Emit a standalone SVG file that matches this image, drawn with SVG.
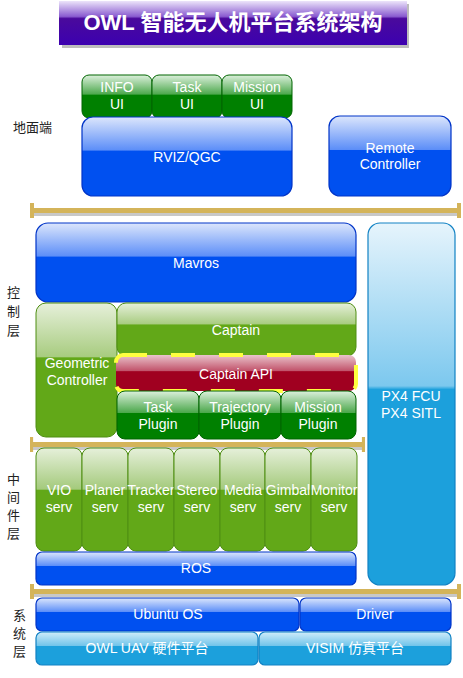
<svg xmlns="http://www.w3.org/2000/svg" width="463" height="678" viewBox="0 0 463 678">
<defs>
<linearGradient id="gTitle" x1="0" y1="0" x2="0" y2="1">
<stop offset="0" stop-color="#ECE4FA"/><stop offset="0.35" stop-color="#8A5CD0"/><stop offset="0.4" stop-color="#4A0A9C"/><stop offset="1" stop-color="#3C00B0"/>
</linearGradient>
<linearGradient id="gBlue" x1="0" y1="0" x2="0" y2="1">
<stop offset="0" stop-color="#DCE6FC"/><stop offset="0.42" stop-color="#5C8EF8"/><stop offset="0.43" stop-color="#0050F0"/><stop offset="1" stop-color="#0050F0"/>
</linearGradient>
<linearGradient id="gGreen" x1="0" y1="0" x2="0" y2="1">
<stop offset="0" stop-color="#DCF0DC"/><stop offset="0.45" stop-color="#4CA84C"/><stop offset="0.46" stop-color="#008000"/><stop offset="1" stop-color="#008000"/>
</linearGradient>
<linearGradient id="gLGreen" x1="0" y1="0" x2="0" y2="1">
<stop offset="0" stop-color="#E6F0DA"/><stop offset="0.4" stop-color="#A8CC80"/><stop offset="0.41" stop-color="#62A818"/><stop offset="1" stop-color="#62A818"/>
</linearGradient>
<linearGradient id="gSrv" x1="0" y1="0" x2="0" y2="1">
<stop offset="0" stop-color="#E6F0DA"/><stop offset="0.4" stop-color="#A4CA7C"/><stop offset="0.41" stop-color="#62A818"/><stop offset="1" stop-color="#62A818"/>
</linearGradient>
<linearGradient id="gRed" x1="0" y1="0" x2="0" y2="1">
<stop offset="0" stop-color="#EAC4CC"/><stop offset="0.45" stop-color="#C05068"/><stop offset="0.46" stop-color="#A00020"/><stop offset="1" stop-color="#A00020"/>
</linearGradient>
<linearGradient id="gSys" x1="0" y1="0" x2="0" y2="1">
<stop offset="0" stop-color="#D0ECFA"/><stop offset="0.42" stop-color="#70C4EA"/><stop offset="0.43" stop-color="#1CA0DC"/><stop offset="1" stop-color="#1CA0DC"/>
</linearGradient>
<linearGradient id="gPX4" x1="0" y1="0" x2="0" y2="1">
<stop offset="0" stop-color="#E6F4FC"/><stop offset="0.45" stop-color="#7CC8EE"/><stop offset="0.46" stop-color="#1CA0DC"/><stop offset="1" stop-color="#1CA0DC"/>
</linearGradient>
<g id="bar"><rect x="0" y="2" width="431" height="4" fill="#C8C8C8"/><rect x="0" y="-2" width="431" height="5" fill="#D4B45A"/><rect x="0" y="-7" width="4" height="15" fill="#D4B45A"/><rect x="427" y="-7" width="4" height="15" fill="#D4B45A"/></g>
</defs>
<style>
text{font-family:"Liberation Sans",Arial,"Noto Sans CJK SC",sans-serif;font-size:14px;fill:#fff;text-anchor:middle}
.lbl{fill:#222;font-size:13px;text-anchor:start;font-family:"Noto Sans CJK SC","Liberation Sans",sans-serif}
.blue{fill:url(#gBlue);stroke:#0034C8;stroke-width:1.2}
.green{fill:url(#gGreen);stroke:#006400;stroke-width:1}
.lgreen{fill:url(#gLGreen);stroke:#4E8E12;stroke-width:1}
.srv{fill:url(#gSrv);stroke:#4E8E12;stroke-width:1}
.sys{fill:url(#gSys);stroke:#1282C4;stroke-width:1.2}
</style>
<g id="title">
<rect x="62" y="4" width="347" height="44" fill="#BDBDBD"/>
<rect x="59" y="1" width="348" height="44" fill="url(#gTitle)"/>
<text x="233" y="30" style="font-size:22px;font-weight:bold;font-family:'Liberation Sans','Noto Sans CJK SC',sans-serif">OWL 智能无人机平台系统架构</text>
</g>
<g id="labels">
<text class="lbl" x="13" y="132">地面端</text>
<text class="lbl" x="7" y="297">控</text><text class="lbl" x="7" y="316">制</text><text class="lbl" x="7" y="335">层</text>
<text class="lbl" x="7" y="484">中</text><text class="lbl" x="7" y="502">间</text><text class="lbl" x="7" y="520">件</text><text class="lbl" x="7" y="538">层</text>
<text class="lbl" x="13" y="620">系</text><text class="lbl" x="13" y="638">统</text><text class="lbl" x="13" y="656">层</text>
</g>
<g id="connectors">
<use href="#bar" x="30" y="210"/>
<g transform="translate(30,444) scale(0.7773,1)"><use href="#bar"/></g>
<use href="#bar" x="30" y="591"/>
</g>
<g id="info-ui"><rect class="green" x="82" y="75" width="70" height="43" rx="7"/><text x="117" y="92">INFO</text><text x="117" y="109">UI</text></g>
<g id="task-ui"><rect class="green" x="152" y="75" width="70" height="43" rx="7"/><text x="187" y="92">Task</text><text x="187" y="109">UI</text></g>
<g id="mission-ui"><rect class="green" x="222" y="75" width="70" height="43" rx="7"/><text x="257" y="92">Mission</text><text x="257" y="109">UI</text></g>
<g id="rviz"><rect class="blue" x="82" y="117" width="210" height="79" rx="11"/><text x="187" y="162">RVIZ/QGC</text></g>
<g id="remote"><rect class="blue" x="329" y="116" width="122" height="80" rx="11"/><text x="390" y="153">Remote</text><text x="390" y="169">Controller</text></g>
<g id="mavros"><rect class="blue" x="36" y="223" width="320" height="79" rx="12"/><text x="196" y="268">Mavros</text></g>
<g id="px4"><rect x="368" y="223" width="87" height="362" rx="12" fill="url(#gPX4)" stroke="#1282C4" stroke-width="1.2"/><text x="411" y="401">PX4 FCU</text><text x="411" y="418">PX4 SITL</text></g>
<g id="geometric"><rect class="lgreen" x="36" y="303" width="81" height="134" rx="10"/><text x="77" y="368">Geometric</text><text x="77" y="385">Controller</text></g>
<g id="captain"><rect class="lgreen" x="117" y="303" width="239" height="53" rx="9"/><text x="236" y="335">Captain</text></g>
<g id="captain-api"><rect x="116" y="355" width="240" height="36" rx="7" fill="url(#gRed)" stroke="#FFFF40" stroke-width="4" stroke-dasharray="24,24"/><text x="236" y="379">Captain API</text></g>
<g id="task-plugin"><rect class="green" x="117" y="391" width="82" height="48" rx="8"/><text x="158" y="412">Task</text><text x="158" y="429">Plugin</text></g>
<g id="traj-plugin"><rect class="green" x="199" y="391" width="82" height="48" rx="8"/><text x="240" y="412">Trajectory</text><text x="240" y="429">Plugin</text></g>
<g id="mission-plugin"><rect class="green" x="281" y="391" width="75" height="48" rx="8"/><text x="318" y="412">Mission</text><text x="318" y="429">Plugin</text></g>
<g id="vio"><rect class="srv" x="36" y="448" width="46" height="103" rx="8"/><text x="59" y="495">VIO</text><text x="59" y="512">serv</text></g>
<g id="planer"><rect class="srv" x="82" y="448" width="46" height="103" rx="8"/><text x="105" y="495">Planer</text><text x="105" y="512">serv</text></g>
<g id="tracker"><rect class="srv" x="128" y="448" width="46" height="103" rx="8"/><text x="151" y="495">Tracker</text><text x="151" y="512">serv</text></g>
<g id="stereo"><rect class="srv" x="174" y="448" width="46" height="103" rx="8"/><text x="197" y="495">Stereo</text><text x="197" y="512">serv</text></g>
<g id="media"><rect class="srv" x="220" y="448" width="45" height="103" rx="8"/><text x="243" y="495">Media</text><text x="243" y="512">serv</text></g>
<g id="gimbal"><rect class="srv" x="265" y="448" width="46" height="103" rx="8"/><text x="288" y="495">Gimbal</text><text x="288" y="512">serv</text></g>
<g id="monitor"><rect class="srv" x="311" y="448" width="46" height="103" rx="8"/><text x="334" y="495">Monitor</text><text x="334" y="512">serv</text></g>
<g id="ros"><rect class="blue" x="36" y="552" width="320" height="33" rx="6"/><text x="196" y="573">ROS</text></g>
<g id="ubuntu"><rect class="blue" x="36" y="598" width="263" height="33" rx="6"/><text x="168" y="619">Ubuntu OS</text></g>
<g id="driver"><rect class="blue" x="300" y="598" width="151" height="33" rx="6"/><text x="375" y="619">Driver</text></g>
<g id="owl-uav"><rect class="sys" x="36" y="632" width="222" height="33" rx="6"/><text x="147" y="653">OWL  UAV 硬件平台</text></g>
<g id="visim"><rect class="sys" x="259" y="632" width="192" height="33" rx="6"/><text x="355" y="653">VISIM 仿真平台</text></g>
</svg>
